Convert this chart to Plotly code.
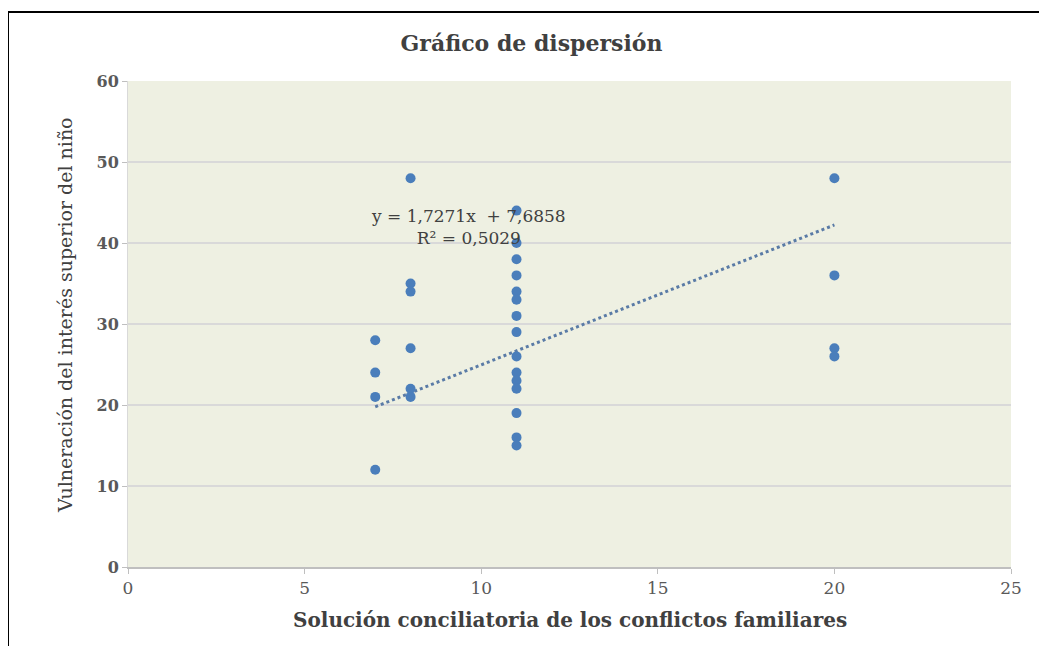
import plotly.graph_objects as go

# Data
x_values = [7, 7, 7, 7,
            8, 8, 8, 8, 8, 8,
            11, 11, 11, 11, 11, 11, 11, 11, 11, 11, 11, 11, 11, 11, 11,
            20, 20, 20, 20]
y_values = [28, 24, 21, 12,
            48, 35, 34, 27, 22, 21,
            44, 40, 38, 36, 34, 33, 31, 29, 26, 24, 23, 22, 19, 16, 15,
            48, 36, 27, 26]

trend_slope = 1.7271
trend_intercept = 7.6858
trend_r2 = 0.5029
trend_x = [min(x_values), max(x_values)]
trend_y = [trend_slope * v + trend_intercept for v in trend_x]

x_ticks = [0, 5, 10, 15, 20, 25]
y_ticks = [0, 10, 20, 30, 40, 50, 60]

title_text = "Gráfico de dispersión"
x_title = "Solución conciliatoria de los conflictos familiares"
y_title = "Vulneración del interés superior del niño"

SERIF = "DejaVu Serif"

fig = go.Figure()
fig.add_trace(go.Scatter(
    x=trend_x, y=trend_y, mode="lines",
    line=dict(color="#5A7BA6", width=3, dash="dot"),
    hoverinfo="skip", showlegend=False))
fig.add_trace(go.Scatter(
    x=x_values, y=y_values, mode="markers",
    marker=dict(color="#4A7EBB", size=10, line=dict(width=0)),
    showlegend=False))

fig.add_annotation(
    x=9.65, y=42.0, xref="x", yref="y",
    text="y = 1,7271x  + 7,6858<br>R² = 0,5029",
    showarrow=False, align="center",
    font=dict(family=SERIF, size=17, color="#404040"))

# axis titles
fig.add_annotation(
    x=0.5, y=-0.109, xref="paper", yref="paper",
    text=x_title, showarrow=False, xanchor="center", yanchor="middle",
    font=dict(family=SERIF, size=20, color="#404040", weight="bold"))
fig.add_annotation(
    x=-0.0713, y=0.5185, xref="paper", yref="paper",
    text=y_title, showarrow=False, textangle=-90,
    xanchor="center", yanchor="middle",
    font=dict(family=SERIF, size=19, color="#404040"))

# outer frame
fig.add_shape(type="path", xref="paper", yref="paper",
              path="M -0.1359,-0.2 L -0.1359,1.142 L 1.06,1.142",
              line=dict(color="#000000", width=2))

fig.update_layout(
    width=1047, height=646,
    margin=dict(l=120, r=44, t=73, b=87),
    paper_bgcolor="#FFFFFF",
    plot_bgcolor="#EEF0E2",
    title=dict(text=title_text, x=0.5, xanchor="center",
               xref="container",
               y=1 - 35 / 646, yanchor="middle",
               font=dict(family=SERIF, size=22, color="#404040", weight="bold")),
    xaxis=dict(range=[0, 25], tickvals=x_ticks, showgrid=False, zeroline=False,
               showline=True, linecolor="#BFBFBF", linewidth=2,
               ticks="outside", ticklen=5, tickcolor="#BFBFBF",
               tickfont=dict(family=SERIF, size=17, color="#595959")),
    yaxis=dict(range=[0, 60], tickvals=y_ticks, showgrid=True,
               gridcolor="#D9D9D9", gridwidth=2, zeroline=False,
               showline=True, linecolor="#D9D9D9", linewidth=1,
               ticks="outside", ticklen=5, tickcolor="#BFBFBF",
               tickfont=dict(family=SERIF, size=16, color="#595959", weight="bold")),
)

fig.write_html("out.html")
